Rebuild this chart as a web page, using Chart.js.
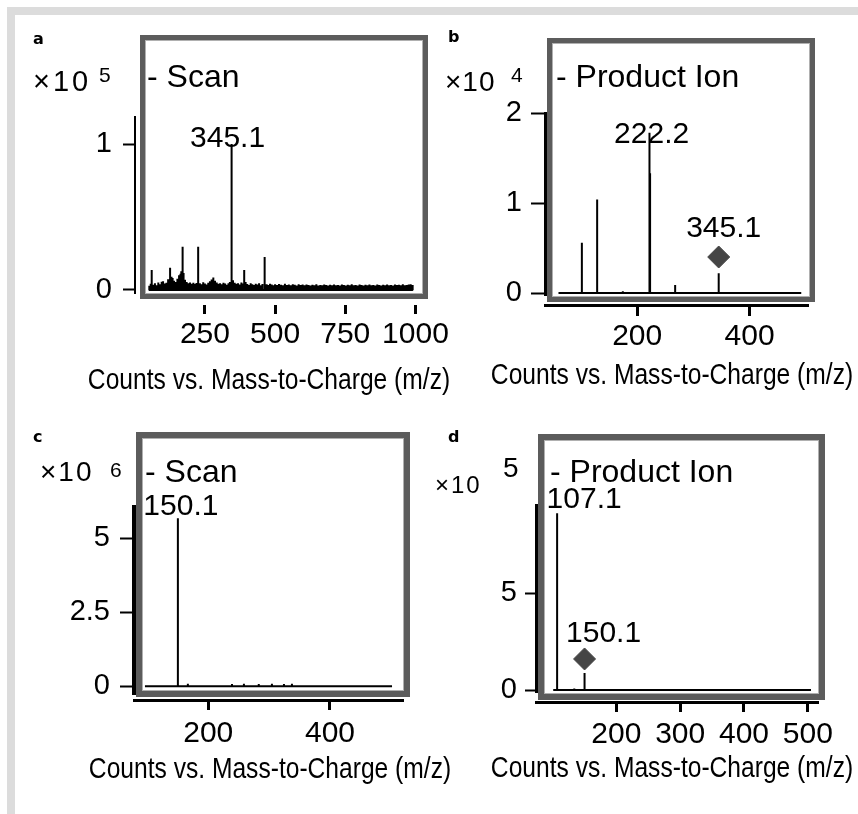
<!DOCTYPE html>
<html>
<head>
<meta charset="utf-8">
<script src="https://cdn.jsdelivr.net/npm/chart.js@4.4.1/dist/chart.umd.min.js"></script>
<style>
  body { margin: 0; background: #fff; width: 858px; height: 814px; overflow: hidden; position: relative; }
  #edge { position: absolute; left: 7px; top: 7px; right: 0; bottom: 0; border-top: 8px solid #dcdcdc; border-left: 8px solid #dcdcdc; }
  canvas { position: absolute; }
  .t { position: absolute; line-height: 1; white-space: nowrap; color: #000; font-family: "Liberation Sans", Arial, sans-serif; }
</style>
</head>
<body>
<div id="edge"></div>
<canvas id="pa" width="445" height="395" style="left:15px;top:15px"></canvas>
<canvas id="pb" width="428" height="395" style="left:430px;top:15px"></canvas>
<canvas id="pc" width="415" height="404" style="left:15px;top:410px"></canvas>
<canvas id="pd" width="428" height="404" style="left:430px;top:410px"></canvas>
<script>
const SANS = '"Liberation Sans", Arial, sans-serif';

// ---- panel a: scan, counts x10^5 ----
const aRange = [50, 990];
const aPeaks = [
  [52,2900],[57,4200],[60.5,13700],[66,3600],[72,4700],[78,3300],[84,5100],[90,3900],[96,5600],[101,6000],
  [107,4400],[113,4900],[119,7300],[126,15300],[131,9000],[135,8200],[140,6400],[146,5500],[152,7700],[158,10100],
  [163,11200],[166,12900],[170.6,29700],[174,11600],[179,7000],[185,5400],[191,4600],[197,5200],[203,4300],[209,5000],
  [215,4100],[220,4800],[226,29700],[232,4600],[238,4000],[244,5300],[250,4500],[256,3700],[262,4900],[268,6000],
  [274,7200],[280,8600],[286,6400],[292,5100],[298,4300],[304,4700],[310,3900],[316,5000],[322,4400],[328,3600],
  [334,4700],[339,5500],[345.1,100000],[350,6600],[356,4900],[362,4200],[368,4600],[374,3700],[380,5200],[386,4500],
  [390,13700],[395,5400],[401,4100],[407,3500],[413,4700],[419,3900],[425,3400],[431,4300],[437,3700],[443,4600],
  [449,3300],[455,4100],[461,4800],[464,22600],[470,4000],[476,3500],[482,4200],[488,3700],[494,3200],[500,3900],
  [507,3400],[514,4100],[521,3600],[528,3300],[535,4200],[542,3500],[549,3800],[556,3200],[563,4000],[570,3600],
  [577,3100],[584,3900],[591,3400],[598,3700],[605,3200],[612,3800],[619,3500],[626,3100],[633,3600],[640,3300],
  [647,3900],[654,3000],[661,3500],[668,3200],[675,3700],[682,3400],[689,3000],[696,3600],[703,3300],[710,3800],
  [717,3200],[724,3500],[731,3100],[738,3700],[745,3400],[752,3000],[759,3600],[766,3300],[773,3900],[780,3200],
  [787,3500],[794,3100],[801,3700],[808,3400],[815,3000],[822,3600],[829,3200],[836,3800],[843,3300],[850,3500],
  [857,3100],[864,3700],[871,3400],[878,3000],[885,3600],[892,3300],[899,3800],[906,3200],[913,3500],[920,3100],
  [927,3700],[934,3400],[941,3600],[948,3200],[955,3900],[962,3300],[969,3500],[976,3700],[983,4000],[990,3400]
];
const aLabeled = [345.1];
const aPrecursor = null;
const aXTicks = [250, 500, 750, 1000];
const aYTicks = [0, 100000];

// ---- panel b: product ion, counts x10^4 ----
const bRange = [60, 492];
const bPeaks = [[101.6,5590],[128.8,10400],[174.5,200],[221.5,13300],[222.2,17800],[223,13300],[267.6,900],[345.1,2200]];
const bLabeled = [222.2, 345.1];
const bPrecursor = [345.1, 4000];
const bXTicks = [200, 400];
const bYTicks = [0, 10000, 20000];

// ---- panel c: scan, counts x10^6 ----
const cRange = [96, 502];
const cPeaks = [[150.1,5670000],[166.5,90000],[239,80000],[258.6,90000],[283,80000],[304.6,90000],[324.4,80000],[337.5,90000]];
const cLabeled = [150.1];
const cPrecursor = null;
const cXTicks = [200, 400];
const cYTicks = [0, 2500000, 5000000];

// ---- panel d: product ion, counts x10^5 ----
const dRange = [101, 505];
const dPeaks = [[107.1,912000],[134,8000],[150.1,88000]];
const dLabeled = [107.1, 150.1];
const dPrecursor = [150.1, 160000];
const dXTicks = [200, 300, 400, 500];
const dYTicks = [0, 500000];

const panels = [
  { id: 'pa', ox: 15, oy: 15, range: aRange, peaks: aPeaks, labeled: aLabeled, precursor: aPrecursor, xTicks: aXTicks, yTicks: aYTicks, exp: 1e5,
    x: [1, 1034], y: [-2055, 118500], pad: { left: 0, top: 102, right: 35, bottom: 25 }, yW: 120, gap: 12, xtH: 80,
    axisW: 2, yTick: 12, yPad: 11, xBorder: false, xTick: 9, xPad: 3, frame: [140, 35, 428, 299], frameW: 5,
    labelOff: [[-4, 3]] },
  { id: 'pb', ox: 430, oy: 15, range: bRange, peaks: bPeaks, labeled: bLabeled, precursor: bPrecursor, xTicks: bXTicks, yTicks: bYTicks, exp: 1e4,
    x: [36, 504], y: [-222, 20000], pad: { left: 0, top: 98, right: 50, bottom: 25 }, yW: 115, gap: 10, xtH: 80,
    axisW: 3, yTick: 14, yPad: 9, xBorder: true, xTick: 11, xPad: 3, frame: [547, 38, 815, 302], frameW: 5,
    labelOff: [[2, 10], [5, -20]] },
  { id: 'pc', ox: 15, oy: 410, range: cRange, peaks: cPeaks, labeled: cLabeled, precursor: cPrecursor, xTicks: cXTicks, yTicks: cYTicks, exp: 1e6,
    x: [78, 520], y: [-260000, 6050000], pad: { left: 0, top: 97, right: 27, bottom: 34 }, yW: 119, gap: 6, xtH: 80,
    axisW: 4, yTick: 14, yPad: 10, xBorder: true, xTick: 10, xPad: 6, frame: [136, 432, 410, 697], frameW: 6,
    labelOff: [[3, -3]] },
  { id: 'pd', ox: 430, oy: 410, range: dRange, peaks: dPeaks, labeled: dLabeled, precursor: dPrecursor, xTicks: dXTicks, yTicks: dYTicks, exp: 1e5,
    x: [74, 516], y: [-10300, 954000], pad: { left: 0, top: 95, right: 40, bottom: 32 }, yW: 106, gap: 10, xtH: 80,
    axisW: 3, yTick: 11, yPad: 8, xBorder: true, xTick: 10, xPad: 5, frame: [538, 434, 825, 700], frameW: 6,
    labelOff: [[27, -5], [19, -17]] }
];

// static texts: [text, x, baseline, size, weight, family, centred, scaleX, letterSpacing]
const TITLE = 'Counts vs. Mass-to-Charge (m/z)';
const texts = [
  ['a', 33, 45, 16, 'bold', '"DejaVu Sans"'], ['b', 448, 43, 16, 'bold', '"DejaVu Sans"'],
  ['c', 33, 443, 16, 'bold', '"DejaVu Sans"'], ['d', 448, 443, 16, 'bold', '"DejaVu Sans"'],
  ['×10', 33, 92, 29, 0, 0, 0, 0, 3], ['5', 99, 82, 21], ['×10', 445, 92, 28, 0, 0, 0, 0, 1], ['4', 511, 82, 21],
  ['×10', 40, 482, 28, 0, 0, 0, 0, 2], ['6', 110, 477, 21], ['×10', 435, 493, 24, 0, 0, 0, 0, 2], ['5', 503, 478, 28],
  ['- Scan', 147, 87, 32], ['- Product Ion', 556, 87, 32], ['- Scan', 145, 482, 32], ['- Product Ion', 550, 482, 32],
  [TITLE, 269, 389, 30, 0, 0, true, 0.82], [TITLE, 672, 384, 30, 0, 0, true, 0.82],
  [TITLE, 270, 778, 30, 0, 0, true, 0.82], [TITLE, 672, 777, 30, 0, 0, true, 0.82]
];
texts.forEach(([s, x, base, size, weight, fam, mid, sx, ls]) => {
  const el = document.createElement('div');
  el.className = 't';
  el.textContent = s;
  el.style.left = x + 'px';
  el.style.top = (base - 0.846 * size) + 'px';
  el.style.fontSize = size + 'px';
  el.style.fontWeight = weight || 'normal';
  if (fam) el.style.fontFamily = fam;
  if (ls) el.style.letterSpacing = ls + 'px';
  if (mid) el.style.transform = 'translateX(-50%) scaleX(' + (sx || 1) + ')';
  document.body.appendChild(el);
});

function stick(range, peaks) {
  const pts = [{ x: range[0], y: 0 }];
  peaks.forEach(([m, h]) => pts.push({ x: m, y: 0 }, { x: m, y: h }, { x: m, y: 0 }));
  pts.push({ x: range[1], y: 0 });
  return pts;
}

const framePlugin = {
  id: 'frame',
  beforeDraw(chart, args, o) {
    const { ctx } = chart;
    const [l, t, r, b] = o.rect;
    const w = o.width;
    ctx.save();
    ctx.lineWidth = w;
    ctx.strokeStyle = '#5c5c5c';
    ctx.strokeRect(l + w / 2, t + w / 2, r - l - w, b - t - w);
    ctx.lineWidth = 1;
    ctx.strokeStyle = '#b0b0b0';
    ctx.strokeRect(l + w + 0.5, t + w + 0.5, r - l - 2 * w - 1, b - t - 2 * w - 1);
    ctx.restore();
  }
};

const peakLabelPlugin = {
  id: 'peakLabels',
  beforeDatasetsDraw(chart, args, o) {
    const { ctx } = chart;
    const xs = chart.scales.x, ys = chart.scales.y;
    ctx.save();
    ctx.font = '30px ' + SANS;
    ctx.fillStyle = '#000';
    ctx.textAlign = 'center';
    ctx.textBaseline = 'alphabetic';
    o.items.forEach((it) => {
      ctx.fillText(it.text, xs.getPixelForValue(it.x) + it.dx, ys.getPixelForValue(it.y) + it.dy);
    });
    ctx.restore();
  }
};

panels.forEach((p) => {
  const items = p.labeled.map((m, i) => {
    const onMarker = p.precursor && p.precursor[0] === m;
    const pk = p.peaks.find((q) => q[0] === m);
    return { text: m.toFixed(1), x: m, y: onMarker ? p.precursor[1] : pk[1], dx: p.labelOff[i][0], dy: p.labelOff[i][1] };
  });
  const datasets = [{
    data: stick(p.range, p.peaks), showLine: true, borderColor: '#000', borderWidth: 2,
    pointRadius: 0, borderJoinStyle: 'bevel', tension: 0, xAxisID: 'x', yAxisID: 'y'
  }];
  if (p.precursor) {
    datasets.push({
      data: [{ x: p.precursor[0], y: p.precursor[1] }], showLine: false, pointStyle: 'rectRot',
      pointRadius: 11, backgroundColor: '#454545', borderColor: '#454545', borderWidth: 1, xAxisID: 'x', yAxisID: 'y'
    });
  }
  const fr = p.frame;
  new Chart(document.getElementById(p.id), {
    type: 'scatter',
    data: { datasets },
    plugins: [framePlugin, peakLabelPlugin],
    options: {
      responsive: false, animation: false, events: [],
      layout: { padding: p.pad },
      plugins: {
        legend: { display: false }, tooltip: { enabled: false },
        frame: { rect: [fr[0] - p.ox, fr[1] - p.oy, fr[2] - p.ox, fr[3] - p.oy], width: p.frameW },
        peakLabels: { items }
      },
      scales: {
        x: {
          type: 'linear', position: 'bottom', weight: 0, min: p.x[0], max: p.x[1], bounds: 'data',
          grid: { display: false }, border: { display: false }, ticks: { display: false },
          afterFit: (s) => { s.height = p.gap; }
        },
        xt: {
          type: 'linear', position: 'bottom', weight: 1, min: p.x[0], max: p.x[1], bounds: 'data',
          afterBuildTicks: (s) => { s.ticks = p.xTicks.map((v) => ({ value: v })); },
          afterFit: (s) => { s.height = p.xtH; },
          grid: { drawOnChartArea: false, tickLength: p.xTick, tickWidth: 3, tickColor: '#000' },
          border: { display: p.xBorder, color: '#000', width: 3 },
          ticks: { autoSkip: false, maxRotation: 0, padding: p.xPad, color: '#000', font: { family: SANS, size: 30 }, callback: (v) => String(v) }
        },
        y: {
          type: 'linear', position: 'left', min: p.y[0], max: p.y[1], bounds: 'data',
          afterBuildTicks: (s) => { s.ticks = p.yTicks.map((v) => ({ value: v })); },
          afterFit: (s) => { s.width = p.yW; },
          grid: { drawOnChartArea: false, tickLength: p.yTick, tickWidth: 2, tickColor: '#000' },
          border: { display: true, color: '#000', width: p.axisW },
          ticks: { padding: p.yPad, color: '#000', font: { family: SANS, size: 29 }, callback: (v) => String(v / p.exp) }
        }
      }
    }
  });
});
</script>
</body>
</html>
